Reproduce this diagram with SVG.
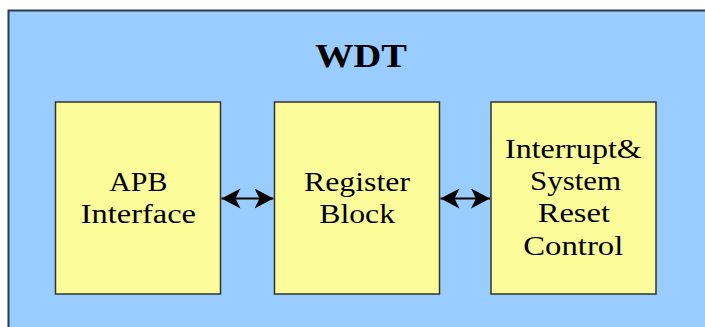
<svg xmlns="http://www.w3.org/2000/svg" width="705" height="327" viewBox="0 0 705 327">
  <defs>
    <style>
      .outer { fill: #99CCFF; stroke: #2E3B4B; stroke-width: 2; }
      .box { fill: #FCFC9A; stroke: #333333; stroke-width: 1.5; }
      .lbl { font-family: "Liberation Serif", "Times New Roman", serif; font-size: 28px; fill: #000; }
      .title { font-family: "Liberation Serif", "Times New Roman", serif; font-size: 33px; font-weight: bold; fill: #000; }
      .conn { stroke: #000; stroke-width: 2; fill: none; }
    </style>
    <marker id="ah" markerUnits="userSpaceOnUse" markerWidth="22" markerHeight="22" refX="19" refY="10" orient="auto-start-reverse" viewBox="0 0 22 22">
      <path d="M19,10 L0,0 L5,10 L0,20 Z" fill="#000"/>
    </marker>
  </defs>
  <rect width="705" height="327" fill="#FFFFFF"/>
  <g id="wdt">
    <rect class="outer" x="8.5" y="10.5" width="720" height="340"/>
    <text class="title" x="315" y="67" textLength="92" lengthAdjust="spacingAndGlyphs">WDT</text>
  </g>
  <g id="apb">
    <rect class="box" x="55.5" y="102" width="165" height="192"/>
    <text class="lbl" x="109.3" y="190.5" textLength="58" lengthAdjust="spacingAndGlyphs">APB</text>
    <text class="lbl" x="80.7" y="223" textLength="115.3" lengthAdjust="spacingAndGlyphs">Interface</text>
  </g>
  <g id="reg">
    <rect class="box" x="274.5" y="102" width="165" height="192"/>
    <text class="lbl" x="304" y="190.5" textLength="106" lengthAdjust="spacingAndGlyphs">Register</text>
    <text class="lbl" x="319.3" y="223" textLength="75.7" lengthAdjust="spacingAndGlyphs">Block</text>
  </g>
  <g id="irc">
    <rect class="box" x="491" y="102" width="165" height="192"/>
    <text class="lbl" x="505" y="157.5" textLength="136.7" lengthAdjust="spacingAndGlyphs">Interrupt&amp;</text>
    <text class="lbl" x="530" y="189.5" textLength="91" lengthAdjust="spacingAndGlyphs">System</text>
    <text class="lbl" x="537.7" y="222" textLength="72.3" lengthAdjust="spacingAndGlyphs">Reset</text>
    <text class="lbl" x="523.3" y="254.5" textLength="100" lengthAdjust="spacingAndGlyphs">Control</text>
  </g>
  <g id="connectors">
    <line class="conn" x1="221.5" y1="198.5" x2="273.5" y2="198.5" marker-start="url(#ah)" marker-end="url(#ah)"/>
    <line class="conn" x1="440.5" y1="198.5" x2="490" y2="198.5" marker-start="url(#ah)" marker-end="url(#ah)"/>
  </g>
</svg>
